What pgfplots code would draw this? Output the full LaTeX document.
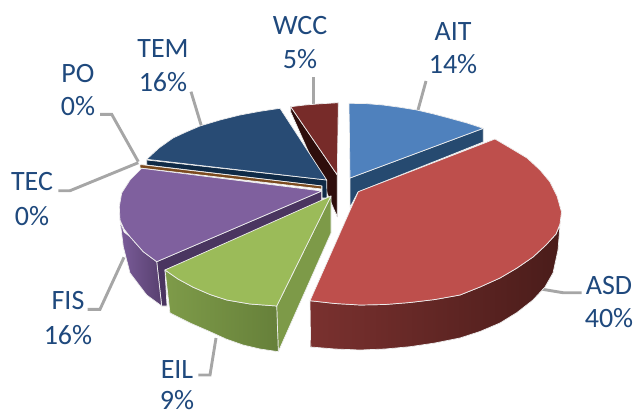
\documentclass[border=0pt]{standalone}
\usepackage{pgfplots}
\usepackage{fontspec}
\setmainfont{Carlito}
\pgfplotsset{compat=1.18}
\definecolor{lbl}{HTML}{1F497D}
\definecolor{leader}{HTML}{A6A6A6}
\definecolor{edge}{HTML}{EEEEEE}
\definecolor{aittop}{HTML}{4F81BD}
\definecolor{aitside}{HTML}{264A70}
\definecolor{asdtop}{HTML}{BE4F4C}
\definecolor{asdsideA}{HTML}{7A312F}
\definecolor{asdsideB}{HTML}{4A1C1A}
\definecolor{eiltop}{HTML}{9BBB59}
\definecolor{eilsideA}{HTML}{7E9B49}
\definecolor{eilsideB}{HTML}{66803A}
\definecolor{eilright}{HTML}{7D9A48}
\definecolor{fistop}{HTML}{7F609E}
\definecolor{fissideA}{HTML}{7A5C99}
\definecolor{fissideB}{HTML}{58406F}
\definecolor{fisinner}{HTML}{4A3560}
\definecolor{temtop}{HTML}{284B74}
\definecolor{temside}{HTML}{0F2A46}
\definecolor{wcctop}{HTML}{772B29}
\definecolor{wccside}{HTML}{2E0E0C}
\definecolor{brown}{HTML}{7B4A1E}
\pgfplotsset{
  face/.style={draw=edge, line width=0.7pt, line join=round, no markers},
  lead/.style={draw=leader, line width=2.9pt, no markers, line join=miter},
}
\newcommand{\lab}[3]{\node[anchor=base, text=lbl, font=\fontsize{28}{28}\selectfont, inner sep=0pt] at (axis cs:#1,#2) {#3};}
\begin{document}
\begin{tikzpicture}
\useasboundingbox (0,0) rectangle (637pt,412pt);
\begin{axis}[
    at={(0,0)}, anchor=south west,
    width=637pt, height=412pt, scale only axis,
    xmin=0, xmax=637, ymin=0, ymax=412,
    y dir=reverse,
    hide axis,
]
% leader lines
\addplot[lead] coordinates {(313.3,77) (313.3,104)};
\addplot[lead] coordinates {(426,81) (418,110)};
\addplot[lead] coordinates {(191,91.7) (201.7,127)};
\addplot[lead] coordinates {(100,114.3) (111.7,114.3) (138.3,161.7)};
\addplot[lead] coordinates {(58.3,190.7) (70,190.7) (138.3,162.7)};
\addplot[lead] coordinates {(87.7,309.3) (100,309.3) (124,257.3)};
\addplot[lead] coordinates {(216,338) (210,375) (198.3,375)};
\addplot[lead] coordinates {(540.7,289) (563,292.7) (581.7,292.7)};
% WCC
\addplot[face, fill=wccside] coordinates {(290.7,106.7) (337.3,175) (337.3,217) (330,200) (290.7,112)} --cycle;
\addplot[face, fill=wcctop] coordinates {(290.7,106.7) (305,105) (320,103.8) (338.3,102.7) (337.3,175)} --cycle;
% AIT
\addplot[face, fill=aitside] coordinates {(350,178) (483.3,128.3) (483.3,142) (358,192) (350,207.3)} --cycle;
\addplot[face, fill=aittop] coordinates {(349,103.3) (366,103.6) (383,105) (400,107.3) (416.7,110) (433,113.8) (450,118.3) (467,123) (483.3,128.3) (350,178)} --cycle;
% TEM
\addplot[face, fill=temside] coordinates {(146.7,160) (326.7,180) (327,198) (322,198) (322,186) (146.7,165)} --cycle;
\addplot[face, fill=temtop] coordinates {(280,108.3) (260,111.3) (240,115) (220,120) (200,126) (186,132) (173,138) (159,148) (146.7,159.3) (326.7,180)} --cycle;
% TEC and PO
\addplot[face, fill=brown] coordinates {(140,164.5) (321.7,186) (321.7,189) (140,168)} --cycle;
% FIS
\addplot[face, fill=fisinner] coordinates {(156.7,261.7) (321.7,191) (321.7,205) (165,270) (167,306) (161.7,306)} --cycle;
\addplot[face, left color=fissideA, right color=fissideB] coordinates {(120,220) (124,232) (130,236.7) (143.3,251.7) (156.7,261.7) (161.7,306) (146.7,295) (130,273) (123.3,246.7)} --cycle;
\addplot[face, fill=fistop] coordinates {(141.7,168.3) (130,180) (121.7,193) (119.3,206.7) (120,220) (124,229) (130,236.7) (143.3,251.7) (156.7,261.7) (321.7,191)} --cycle;
% ASD
\addplot[face, left color=asdsideA, right color=asdsideB] coordinates {(310,300.7) (335,303.5) (360,305) (385,304.5) (410,302.5) (435,299.5) (460,295) (480,287) (500,278) (517,268) (533,257) (546,245) (556,234) (560,225) (558,250) (553,273) (545,287) (533,300) (517,312.5) (500,323) (480,331.5) (460,338) (435,343) (410,346.7) (385,349) (360,350) (335,349) (310.7,347)} --cycle;
\addplot[face, fill=asdtop] coordinates {(358.3,191.7) (495,139) (512,149) (527,158) (540,170) (550,182) (557,196) (561.5,212) (560,224) (556,234) (546,245) (533,257) (517,268) (500,278) (480,287) (460,295) (435,299.5) (410,302.5) (385,304.5) (360,305) (335,303.5) (310,300.7)} --cycle;
% EIL
\addplot[face, fill=eilright] coordinates {(276.7,306) (331,196) (331,233) (278.3,351.7)} --cycle;
\addplot[face, left color=eilsideA, right color=eilsideB] coordinates {(165,270) (178,279) (193.3,287.3) (210,294.5) (226.7,300) (250,304) (276.7,306) (278.3,351.7) (260,349) (243,345) (226,339) (210,331.7) (190,323) (170,313)} --cycle;
\addplot[face, fill=eiltop] coordinates {(331,196) (165,270) (178,279) (193.3,287.3) (210,294.5) (226.7,300) (250,304) (276.7,306)} --cycle;
% labels
\lab{453}{41}{AIT}
\lab{453}{74}{14\%}
\lab{609}{294}{ASD}
\lab{609}{327}{40\%}
\lab{177}{378}{EIL}
\lab{177}{409.5}{9\%}
\lab{68}{309.5}{FIS}
\lab{68}{344.5}{16\%}
\lab{32}{190}{TEC}
\lab{32}{225}{0\%}
\lab{78}{82}{PO}
\lab{78}{115}{0\%}
\lab{163}{58}{TEM}
\lab{163}{92}{16\%}
\lab{300}{35}{WCC}
\lab{300}{69}{5\%}
\end{axis}
\end{tikzpicture}
\end{document}
